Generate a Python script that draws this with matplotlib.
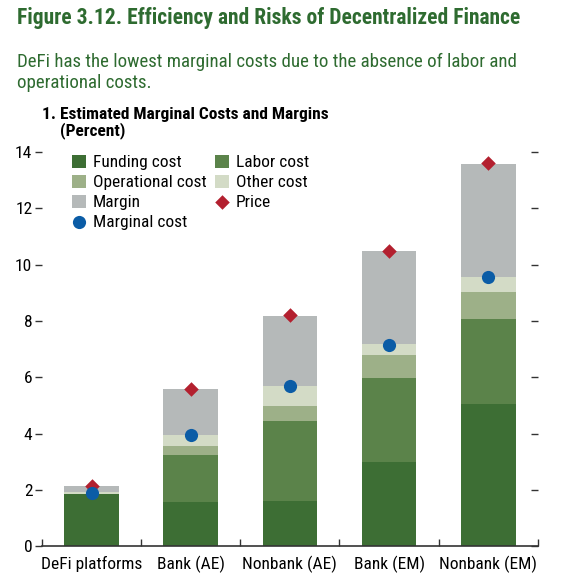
import matplotlib
matplotlib.use("Agg")
import matplotlib.pyplot as plt
import numpy as np

categories = ["DeFi platforms", "Bank (AE)", "Nonbank (AE)", "Bank (EM)", "Nonbank (EM)"]
funding_cost = [1.87, 1.57, 1.60, 3.00, 5.04]
labor_cost = [0.00, 1.67, 2.85, 2.98, 3.04]
operational_cost = [0.00, 0.32, 0.53, 0.83, 0.94]
other_cost = [0.05, 0.40, 0.71, 0.36, 0.54]
margin = [0.21, 1.62, 2.50, 3.31, 4.02]
price = [2.15, 5.58, 8.20, 10.50, 13.60]
marginal_cost = [1.90, 3.96, 5.70, 7.15, 9.55]
yticks = [0, 2, 4, 6, 8, 10, 12, 14]

plt.rcParams["font.family"] = ["Roboto Condensed", "Liberation Sans Narrow", "DejaVu Sans"]

GREEN_T = "#2e6b30"
fig = plt.figure(figsize=(5.62, 5.75), dpi=100)
ax = fig.add_axes([0.0747, 0.0497, 0.8823, 0.6860])

x = np.arange(len(categories))
w = 0.55
series = [
    (funding_cost, "#3d6e34", "Funding cost"),
    (labor_cost, "#5b834a", "Labor cost"),
    (operational_cost, "#9db088", "Operational cost"),
    (other_cost, "#d3dbc6", "Other cost"),
    (margin, "#b5b9b9", "Margin"),
]
bottom = np.zeros(len(categories))
handles = {}
for vals, col, lab in series:
    b = ax.bar(x, vals, w, bottom=bottom, color=col, label=lab, linewidth=0)
    handles[lab] = b
    bottom = bottom + np.array(vals)

hp = ax.scatter(x, price, marker="D", s=55, color="#b3202f", zorder=3, label="Price", linewidths=0)
hm = ax.scatter(x, marginal_cost, marker="o", s=90, color="#0b5ca6", zorder=4, label="Marginal cost", linewidths=0)
handles["Price"] = hp
handles["Marginal cost"] = hm

ax.set_xlim(-0.5, 4.5)
ax.set_ylim(0, 14)
for s in ["left", "right", "top"]:
    ax.spines[s].set_visible(False)
ax.spines["bottom"].set_color("#333333")
ax.spines["bottom"].set_linewidth(1.2)

ax.set_xticks(x)
ax.set_xticklabels(categories, fontsize=12.5)
ax.tick_params(axis="x", which="major", length=0, pad=7)
ax.set_xticks(np.arange(-0.5, 4.6, 1.0), minor=True)
ax.tick_params(axis="x", which="minor", direction="in", length=5, width=1, color="#333333")

ax.set_yticks(yticks)
ax.set_yticklabels([str(t) for t in yticks], fontsize=12.5)
ax.tick_params(axis="y", which="major", direction="out", length=5, width=1, color="#333333",
               left=True, right=False, labelleft=True, labelright=False, pad=2)

axr = ax.twinx()
axr.set_ylim(0, 14)
axr.set_yticks(yticks)
axr.tick_params(axis="y", direction="in", length=5, width=1, color="#333333", labelright=False)
for s in ["left", "right", "top", "bottom"]:
    axr.spines[s].set_visible(False)

order = ["Funding cost", "Operational cost", "Margin", "Marginal cost",
         "Labor cost", "Other cost", "Price"]
leg = ax.legend([handles[k] for k in order], order, ncol=2, loc="upper left",
                bbox_to_anchor=(0.046, 1.011), frameon=False, fontsize=12.5,
                handlelength=0.8, handleheight=0.8, handletextpad=0.4,
                columnspacing=0.5, labelspacing=0.25, borderaxespad=0)

H = 575.0
fig.text(0.03, 1 - 24 / H, "Figure 3.12. Efficiency and Risks of Decentralized Finance",
         color=GREEN_T, fontsize=15.5, fontweight="bold", va="baseline")
fig.text(0.03, 1 - 67 / H, "DeFi has the lowest marginal costs due to the absence of labor and",
         color=GREEN_T, fontsize=13.6, va="baseline")
fig.text(0.03, 1 - 88 / H, "operational costs.",
         color=GREEN_T, fontsize=13.6, va="baseline")
fig.text(0.075, 1 - 119 / H, "1. Estimated Marginal Costs and Margins", color="black",
         fontsize=12.5, fontweight="bold", va="baseline")
fig.text(0.107, 1 - 135.5 / H, "(Percent)", color="black",
         fontsize=12.5, fontweight="bold", va="baseline")

fig.savefig("out.png", dpi=100)
